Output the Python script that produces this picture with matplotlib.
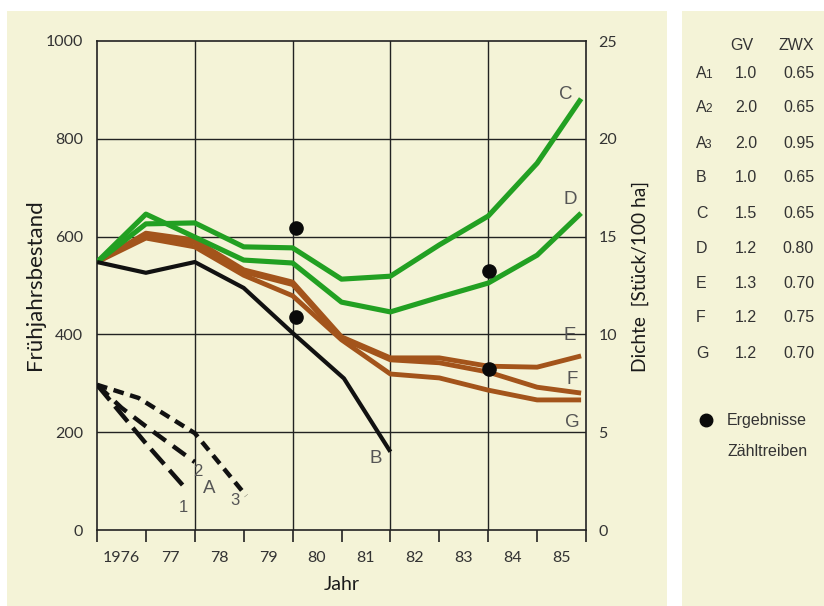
import numpy as np
import matplotlib
matplotlib.use('Agg')
import matplotlib.pyplot as plt
from matplotlib.patches import Rectangle

plt.rcParams['mathtext.default'] = 'regular'

# ---- data ----------------------------------------------------------------
year_labels = ['1976', '77', '78', '79', '80', '81', '82', '83', '84', '85']

# Frühjahrsbestand per year position (0 = start of 1976)
x_full = [0, 1, 2, 3, 4, 5, 6, 7, 8, 9, 9.9]
b_x = [0, 1, 2, 3, 4, 5.05, 6.0]
b_y = [548, 526, 548, 495, 403, 310, 160]
c_y = [548, 626, 628, 579, 577, 513, 519, 583, 642, 750, 882]
d_y = [548, 646, 599, 552, 546, 466, 446, 476, 505, 562, 648]
e_y = [548, 607, 593, 532, 507, 395, 352, 352, 335, 333, 356]
f_y = [548, 603, 588, 528, 502, 392, 348, 342, 323, 292, 280]
g_y = [548, 597, 579, 521, 479, 389, 319, 311, 286, 266, 266]

a1_x = [0, 1, 1.75]
a1_y = [297, 177, 92]
a2_x = [0, 0.5, 1, 2]
a2_y = [297, 250, 212, 139]
a3_x = [0, 0.85, 2, 3.05]
a3_y = [297, 270, 198, 70]

# Ergebnisse Zähltreiben
dot_x = [4.07, 4.07, 8.02, 8.02]
dot_y = [618, 436, 530, 329]

# side table
row_names = ['A', 'A', 'A', 'B', 'C', 'D', 'E', 'F', 'G']
row_subs = ['1', '2', '3', '', '', '', '', '', '']
gv_vals = ['1.0', '2.0', '2.0', '1.0', '1.5', '1.2', '1.3', '1.2', '1.2']
zwx_vals = ['0.65', '0.65', '0.95', '0.65', '0.65', '0.80', '0.70', '0.75', '0.70']

CREAM = '#f4f3d7'
GREEN = '#22a022'
BROWN = '#a3541b'
GRID = '#222222'
LABEL = '#555555'

W, H = 824, 606
fig = plt.figure(figsize=(W / 100, H / 100), dpi=100)
fig.patch.set_facecolor('white')


def fx(px):
    return px / W


def fy(py):
    return 1 - py / H


# cream panels (behind the axes)
fig.patches.append(Rectangle((fx(7), 0), fx(667) - fx(7), fy(11), transform=fig.transFigure,
                             facecolor=CREAM, edgecolor='none', zorder=-5))
fig.patches.append(Rectangle((fx(682), 0), 1 - fx(682), fy(11), transform=fig.transFigure,
                             facecolor=CREAM, edgecolor='none', zorder=-5))

ax = fig.add_axes([fx(97), fy(530), fx(586) - fx(97), fy(41) - fy(530)])
ax.set_facecolor('none')
ax.set_xlim(0, 10)
ax.set_ylim(0, 1000)

for v in [2, 4, 6, 8]:
    ax.axvline(v, color=GRID, lw=1.0, zorder=1)
for h in [200, 400, 600, 800]:
    ax.axhline(h, color=GRID, lw=1.0, zorder=1)
for s in ax.spines.values():
    s.set_color(GRID)
    s.set_linewidth(1.2)

# x ticks: marks at year boundaries, labels in between
ax.set_xticks(range(11))
ax.set_xticklabels([])
ax.tick_params(axis='x', which='major', direction='out', length=8.5, width=1.2, color=GRID)
ax.set_xticks(np.arange(10) + 0.5, minor=True)
ax.set_xticklabels(year_labels, minor=True)
ax.tick_params(axis='x', which='minor', length=0, pad=15, labelsize=11.5, labelcolor='#333333')
for t in ax.get_xticklabels(minor=True):
    t.set_family('Lato')

ax.set_yticks(range(0, 1001, 200))
ax.tick_params(axis='y', length=0, pad=10, labelsize=11.5, labelcolor='#333333')
for t in ax.get_yticklabels():
    t.set_family('Lato')

ax2 = ax.twinx()
ax2.set_ylim(0, 25)
ax2.set_yticks(range(0, 26, 5))
ax2.tick_params(axis='y', length=0, pad=9, labelsize=11.5, labelcolor='#333333')
for t in ax2.get_yticklabels():
    t.set_family('Lato')
for s in ax2.spines.values():
    s.set_visible(False)

# lines
kw = dict(solid_joinstyle='round', solid_capstyle='butt', zorder=3)
ax.plot(x_full, e_y, color=BROWN, lw=3.5, **kw)
ax.plot(x_full, f_y, color=BROWN, lw=3.5, **kw)
ax.plot(x_full, g_y, color=BROWN, lw=3.5, **kw)
ax.plot(x_full, c_y, color=GREEN, lw=3.7, **kw)
ax.plot(x_full, d_y, color=GREEN, lw=3.7, **kw)
ax.plot(b_x, b_y, color='#111111', lw=3.0, **kw)

dkw = dict(color='#111111', lw=3.2, dash_capstyle='butt', zorder=3)
ax.plot(a1_x, a1_y, dashes=(4.5, 1.8), **dkw)
ax.plot(a2_x, a2_y, dashes=(3.5, 2.0), **dkw)
ax.plot(a3_x, a3_y, dashes=(2.4, 1.5), **dkw)

ax.plot(dot_x, dot_y, 'o', ms=9.5, color='#0a0a0a', zorder=5)

# curve labels
lab = dict(color=LABEL, family='Liberation Sans', ha='center', va='center', zorder=6)
ax.text(9.59, 890, 'C', fontsize=13.5, **lab)
ax.text(9.67, 675, 'D', fontsize=13.5, **lab)
ax.text(9.67, 397, 'E', fontsize=13.5, **lab)
ax.text(9.71, 307, 'F', fontsize=13.5, **lab)
ax.text(9.73, 219, 'G', fontsize=13.5, **lab)
ax.text(5.7, 147, 'B', fontsize=13.5, **lab)
ax.text(2.29, 84, 'A', fontsize=13.5, **lab)
ax.text(1.76, 47, '1', fontsize=12, **lab)
ax.text(2.07, 119, '2', fontsize=12, **lab)
ax.text(2.82, 61, '3', fontsize=12, **lab)

# axis titles
fig.text(fx(35), fy(285), 'Frühjahrsbestand', rotation=90, ha='center', va='center',
         fontsize=16, family='Lato', color='#1a1a1a')
fig.text(fx(640), fy(276), 'Dichte  [Stück/100 ha]', rotation=90, ha='center', va='center',
         fontsize=13.8, family='Lato', color='#1a1a1a')
fig.text(fx(342), fy(585), 'Jahr', ha='center', va='center', fontsize=14, family='Lato',
         color='#1a1a1a')

# side table
tk = dict(family='Liberation Sans', fontsize=11.5, color='#333333', va='baseline')
fig.text(fx(742), fy(45 + 5.5), 'GV', ha='center', **tk)
fig.text(fx(814), fy(45 + 5.5), 'ZWX', ha='right', **tk)
for i, (nm, sb, gv, zw) in enumerate(zip(row_names, row_subs, gv_vals, zwx_vals)):
    base = 72 + 35 * i + 5.5
    fig.text(fx(696), fy(base), nm, ha='left', **tk)
    if sb:
        fig.text(fx(705), fy(base), sb, ha='left', family='Liberation Sans', fontsize=8.5,
                 color='#333333', va='baseline')
    fig.text(fx(746), fy(base), gv, ha='center', **tk)
    fig.text(fx(814), fy(base), zw, ha='right', **tk)

fig.add_artist(plt.Line2D([fx(706)], [fy(420)], marker='o', ms=9, color='#0a0a0a',
                          transform=fig.transFigure))
fig.text(fx(727), fy(420 + 5.5), 'Ergebnisse', ha='left', **tk)
fig.text(fx(727), fy(450 + 5.5), 'Zähltreiben', ha='left', **tk)

fig.savefig('out.png', dpi=100, facecolor=fig.get_facecolor())
